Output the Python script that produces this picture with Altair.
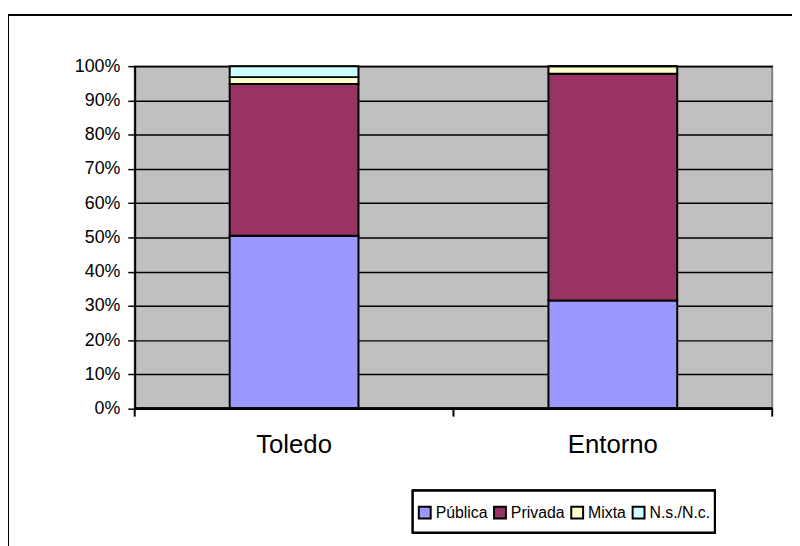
import altair as alt
import pandas as pd

categories = ["Toledo", "Entorno"]
series = ["Pública", "Privada", "Mixta", "N.s./N.c."]
colors = ["#9999FF", "#993366", "#FFFFCC", "#CCFFFF"]
toledo = [50.5, 44.3, 2.0, 3.2]
entorno = [31.6, 66.2, 2.2, 0.0]

rows = []
for cat, vals in zip(categories, [toledo, entorno]):
    for i, (s, v) in enumerate(zip(series, vals)):
        rows.append({"cat": cat, "serie": s, "val": v / 100.0, "ord": i})
df = pd.DataFrame(rows)

FONT = "Liberation Sans"

bars = alt.Chart(df).mark_bar(stroke="black", strokeWidth=2).encode(
    x=alt.X("cat:N", sort=categories, title=None,
            scale=alt.Scale(paddingInner=0.596, paddingOuter=0.298),
            axis=alt.Axis(labelAngle=0, ticks=False, domain=False, labelPadding=23,
                          labelFontSize=26, labelFont=FONT, labelColor="black")),
    y=alt.Y("val:Q", stack="zero", title=None,
            scale=alt.Scale(domain=[0, 1], nice=False),
            axis=alt.Axis(values=[i / 10 for i in range(11)], format=".0%",
                          grid=True, gridColor="black", gridWidth=1.5,
                          domainColor="black", domainWidth=2,
                          tickColor="black", tickSize=7, tickWidth=1.5,
                          labelFontSize=18, labelFont=FONT, labelColor="black",
                          labelPadding=8)),
    color=alt.Color("serie:N", sort=series,
                    scale=alt.Scale(domain=series, range=colors),
                    legend=alt.Legend(title=None, orient="none", legendX=285, legendY=443,
                                      direction="horizontal", columns=4,
                                      symbolType="square", symbolSize=144,
                                      symbolStrokeColor="black", symbolStrokeWidth=2,
                                      symbolOpacity=1,
                                      labelFontSize=16, labelFont=FONT, labelColor="black",
                                      labelLimit=200,
                                      padding=0, columnPadding=2,
                                      labelOffset=3)),
    order=alt.Order("ord:Q"),
)

xaxis_line = alt.Chart(df).mark_rule(color="black", strokeWidth=2).encode(
    x=alt.value(0), x2=alt.value(644), y=alt.value(346))
xticks = alt.Chart(pd.DataFrame({"p": [0, 322, 644]})).mark_rule(color="black", strokeWidth=2).encode(
    x=alt.X("p:Q", scale=alt.Scale(domain=[0, 644], range=[0, 644]), axis=None),
    y=alt.value(346), y2=alt.value(354))

frame = alt.Chart(df).mark_rect(fill=None, stroke="black", strokeWidth=1.5, clip=False).encode(
    x=alt.value(-128), x2=alt.value(720), y=alt.value(-52), y2=alt.value(600))

legend_box = alt.Chart(df).mark_rect(fill="white", stroke="black", strokeWidth=2, clip=False).encode(
    x=alt.value(281), x2=alt.value(586), y=alt.value(429), y2=alt.value(471))

chart = alt.layer(frame, legend_box, bars, xaxis_line, xticks).resolve_scale(x="independent").properties(
    width=644, height=346,
    autosize=alt.AutoSizeParams(type="none"),
    padding={"left": 128, "top": 56, "right": 20, "bottom": 140},
    background="white",
).configure_view(fill="#C0C0C0", stroke="#808080", strokeWidth=2)

chart.save("out.html", embed_options={"renderer": "svg", "actions": False})
